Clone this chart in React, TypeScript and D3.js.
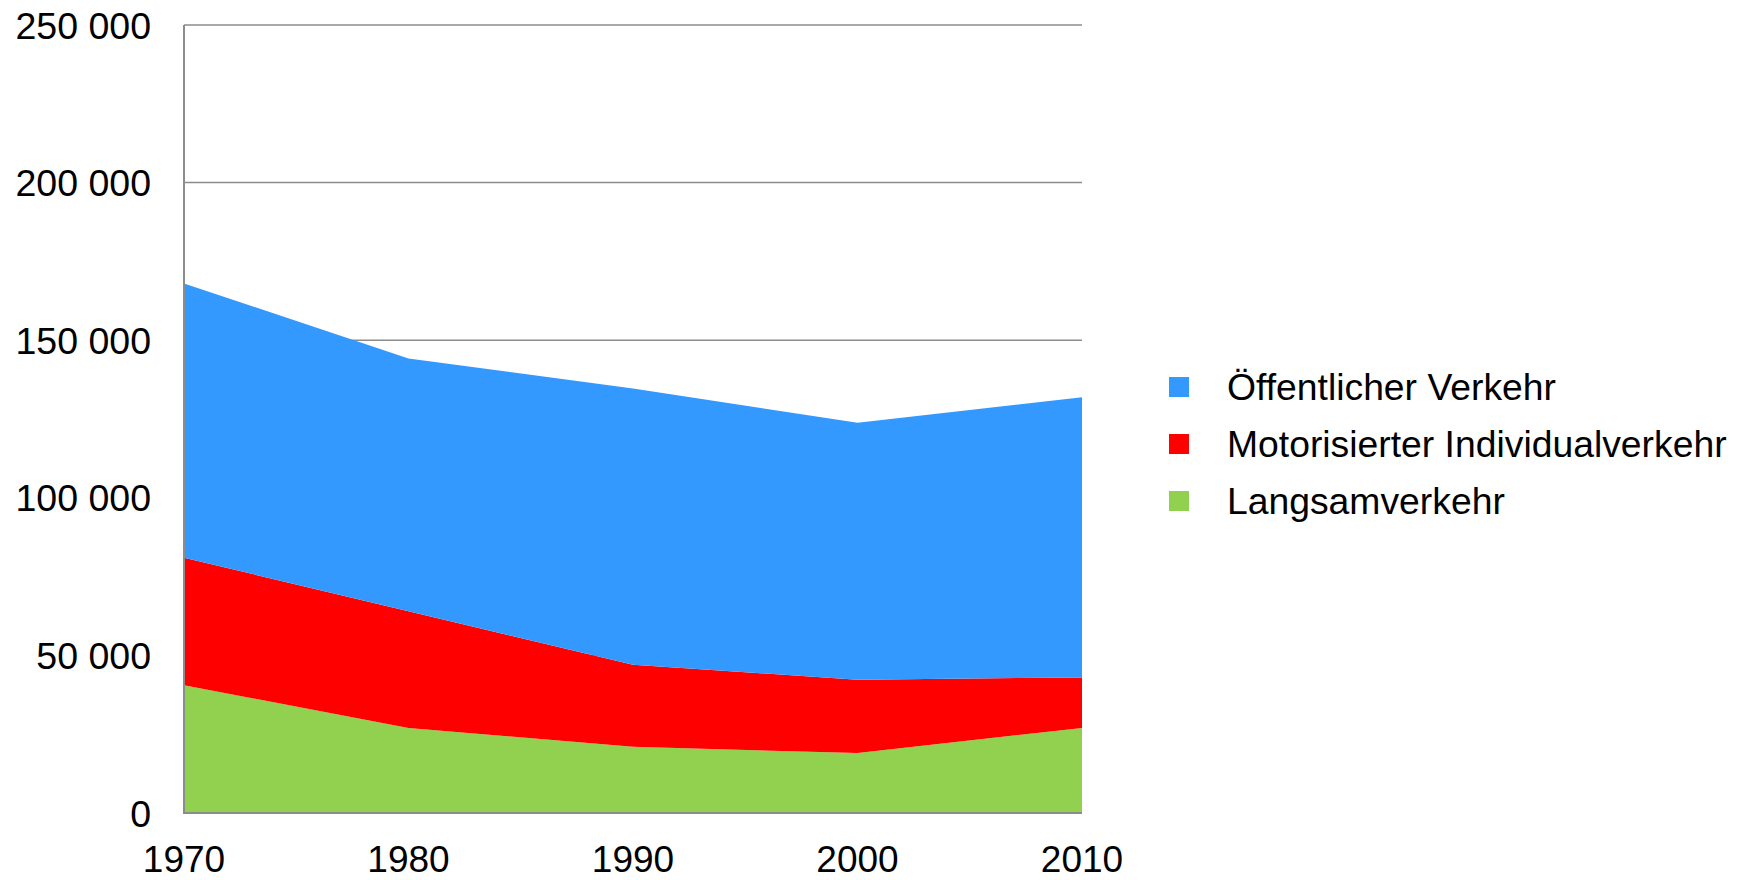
import React from "react";
import * as d3 from "d3";

const years = [1970, 1980, 1990, 2000, 2010];
const langsam = [40500, 27000, 21000, 19000, 27000];
const motorisiert = [40500, 37000, 26000, 23300, 16000];
const oeffentlich = [87000, 80200, 87700, 81500, 88900];
const seriesNames = ["Langsamverkehr", "Motorisierter Individualverkehr", "Öffentlicher Verkehr"];
const seriesColors = ["#92D050", "#FF0000", "#3399FF"];
const yTicks = [0, 50000, 100000, 150000, 200000, 250000];
const yTickLabels = ["0", "50 000", "100 000", "150 000", "200 000", "250 000"];
const legendOrder = [2, 1, 0];

export default function App() {
  const W = 1744, H = 880;
  const left = 184, right = 1082, top = 25, bottom = 813;
  const x = d3.scaleLinear().domain([1970, 2010]).range([left, right]);
  const y = d3.scaleLinear().domain([0, 250000]).range([bottom, top]);
  const rows = years.map((yr, i) => ({ year: yr, s0: langsam[i], s1: motorisiert[i], s2: oeffentlich[i] }));
  const stack = d3.stack<any>().keys(["s0", "s1", "s2"]);
  const stacked = stack(rows);
  const area = d3
    .area<any>()
    .x((d) => x(d.data.year))
    .y0((d) => y(d[0]))
    .y1((d) => y(d[1]));
  const font = "'Liberation Sans', Arial, sans-serif";
  return (
    <svg width={W} height={H} style={{ position: "absolute", left: 0, top: 0, background: "#fff" }} fontFamily={font}>
      {yTicks.map((t, i) => (
        <g key={t}>
          {t > 0 && <line x1={left} x2={right} y1={y(t)} y2={y(t)} stroke="#8c8c8c" strokeWidth={1.5} />}
          <text x={151} y={y(t)} dy="0.36em" textAnchor="end" fontSize={37.5} fill="#000">
            {yTickLabels[i]}
          </text>
        </g>
      ))}
      {stacked.map((s, i) => (
        <path key={i} d={area(s as any) || ""} fill={seriesColors[i]} />
      ))}
      <line x1={left} x2={left} y1={top} y2={bottom + 1} stroke="#8c8c8c" strokeWidth={2} />
      <line x1={left - 1} x2={right} y1={bottom} y2={bottom} stroke="#8c8c8c" strokeWidth={2} />
      {years.map((yr) => (
        <text key={yr} x={x(yr)} y={872} textAnchor="middle" fontSize={37} fill="#000">
          {yr}
        </text>
      ))}
      {legendOrder.map((si, k) => {
        const cy = 387 + k * 57;
        return (
          <g key={si}>
            <rect x={1169} y={cy - 10} width={20} height={20} fill={seriesColors[si]} />
            <text x={1227} y={cy} dy="0.36em" fontSize={37.3} fill="#000">
              {seriesNames[si]}
            </text>
          </g>
        );
      })}
    </svg>
  );
}
